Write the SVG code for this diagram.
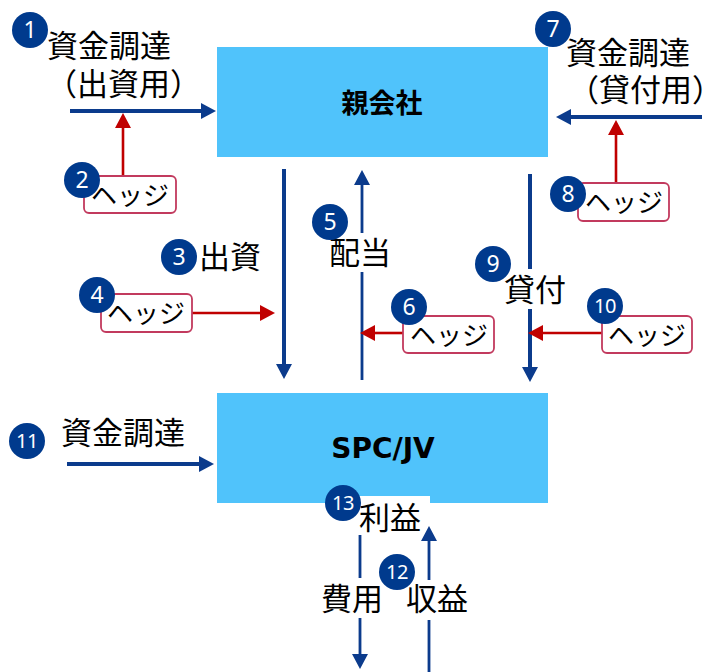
<svg xmlns="http://www.w3.org/2000/svg" width="709" height="672" viewBox="0 0 709 672">
<defs>
<marker id="ab" markerUnits="userSpaceOnUse" markerWidth="16" markerHeight="16" refX="1" refY="8" orient="auto"><path d="M0,0 L15,8 L0,16 z" fill="#0B3B8C"/></marker>
<marker id="ar" markerUnits="userSpaceOnUse" markerWidth="16" markerHeight="16" refX="1" refY="8" orient="auto"><path d="M0,0 L15,8 L0,16 z" fill="#C00000"/></marker>
<style>
.box{fill:#50C3FB}
.title{font-family:"Noto Sans CJK JP","Noto Sans",sans-serif;font-weight:bold;font-size:27px;fill:#000;text-anchor:middle}
.latin{font-family:"DejaVu Sans",sans-serif;font-weight:bold;font-size:28px;fill:#000;text-anchor:middle}
.lbl{font-family:"Noto Sans CJK JP",sans-serif;font-size:31px;fill:#000}
.hdg{fill:#fff;stroke:#C23A5E;stroke-width:1.8}
.htx{font-family:"Noto Sans CJK JP",sans-serif;font-size:26px;fill:#000;text-anchor:middle}
.num circle{fill:#003A8D}
.num text{font-family:"Noto Sans",sans-serif;font-size:23px;fill:#fff;text-anchor:middle}
.num text.two{font-size:20px;letter-spacing:-0.5px}
.bk{fill:none;stroke:#0B3B8C;stroke-width:4;marker-end:url(#ab)}
.bt{fill:none;stroke:#0B3B8C;stroke-width:2.8;marker-end:url(#ab)}
.rd{fill:none;stroke:#C00000;stroke-width:2.6;marker-end:url(#ar)}
</style>
</defs>
<rect width="709" height="672" fill="#fff"/>

<g id="parent">
<rect class="box" x="217" y="47" width="331" height="110"/>
<text class="title" x="382" y="113">親会社</text>
</g>
<g id="spc">
<rect class="box" x="217" y="393" width="331" height="110"/>
<rect x="352" y="496" width="78" height="10" fill="#fff"/>
<text class="latin" x="383" y="458">SPC/JV</text>
</g>

<g id="connectors">
<path class="bk" d="M70,111 H202"/>
<path class="bk" d="M702,117 H570"/>
<path class="bk" d="M67,464 H200"/>
<path class="bk" d="M284,169 V365"/>
<path class="bt" d="M362,380 V272 M362,233 V184"/>
<path class="bk" d="M530,174 V269 M530,309 V368"/>
<path class="bt" d="M360,535 V578 M360,618 V655"/>
<path class="bt" d="M429,672 V620 M429,580 V540"/>
<path class="rd" d="M123,176 V127"/>
<path class="rd" d="M616,183 V134"/>
<path class="rd" d="M192,313 H261"/>
<path class="rd" d="M403,333 H374"/>
<path class="rd" d="M602,333 H542"/>
</g>

<g id="hedge2"><rect class="hdg" x="84" y="176" width="92" height="37" rx="5"/><text class="htx" x="130" y="205">ヘッジ</text></g>
<g id="hedge8"><rect class="hdg" x="578" y="183" width="91" height="38" rx="5"/><text class="htx" x="624" y="212">ヘッジ</text></g>
<g id="hedge4"><rect class="hdg" x="101" y="294" width="91" height="38" rx="5"/><text class="htx" x="146" y="323">ヘッジ</text></g>
<g id="hedge6"><rect class="hdg" x="403" y="316" width="91" height="37" rx="5"/><text class="htx" x="449" y="345">ヘッジ</text></g>
<g id="hedge10"><rect class="hdg" x="602" y="316" width="90" height="37" rx="5"/><text class="htx" x="647" y="345">ヘッジ</text></g>

<g id="labels">
<text class="lbl" x="47" y="57">資金調達</text>
<text class="lbl" x="46" y="95">（出資用）</text>
<text class="lbl" x="566" y="64">資金調達</text>
<text class="lbl" x="568" y="101">（貸付用）</text>
<text class="lbl" x="199" y="268">出資</text>
<text class="lbl" x="329" y="264">配当</text>
<text class="lbl" x="504" y="301">貸付</text>
<text class="lbl" x="61" y="444">資金調達</text>
<text class="lbl" x="359" y="529">利益</text>
<text class="lbl" x="321" y="610">費用</text>
<text class="lbl" x="406" y="610">収益</text>
</g>

<g id="n1" class="num"><circle cx="30" cy="30" r="18"/><text x="30" y="38">1</text></g>
<g id="n2" class="num"><circle cx="82" cy="180" r="18"/><text x="82" y="188">2</text></g>
<g id="n3" class="num"><circle cx="179" cy="257" r="18"/><text x="179" y="265">3</text></g>
<g id="n4" class="num"><circle cx="97" cy="295" r="18"/><text x="97" y="303">4</text></g>
<g id="n5" class="num"><circle cx="330" cy="222" r="18"/><text x="330" y="230">5</text></g>
<g id="n6" class="num"><circle cx="409" cy="307" r="18"/><text x="409" y="315">6</text></g>
<g id="n7" class="num"><circle cx="553" cy="29" r="18"/><text x="553" y="37">7</text></g>
<g id="n8" class="num"><circle cx="568" cy="194" r="18"/><text x="568" y="202">8</text></g>
<g id="n9" class="num"><circle cx="493" cy="264" r="18"/><text x="493" y="272">9</text></g>
<g id="n10" class="num"><circle cx="605" cy="306" r="18"/><text class="two" x="605" y="313">10</text></g>
<g id="n11" class="num"><circle cx="27" cy="441" r="18"/><text class="two" x="27" y="448">11</text></g>
<g id="n12" class="num"><circle cx="397" cy="572" r="18"/><text class="two" x="397" y="579">12</text></g>
<g id="n13" class="num"><circle cx="343" cy="503" r="18"/><text class="two" x="343" y="510">13</text></g>
</svg>
